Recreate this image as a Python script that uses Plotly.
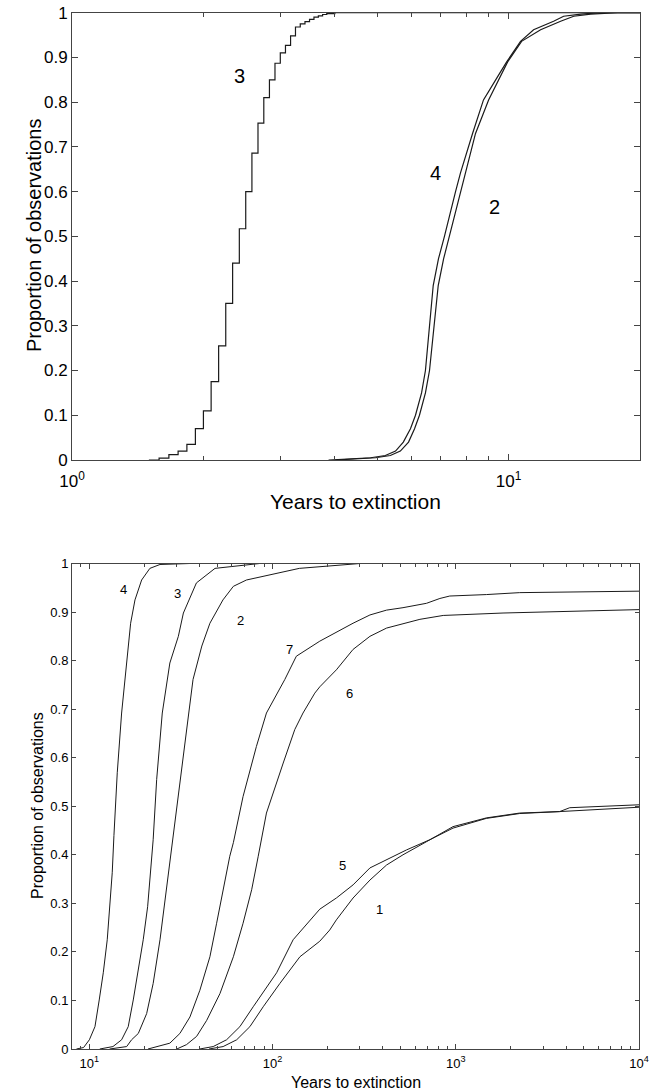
import numpy as np
import plotly.graph_objects as go

# ---------------- Top panel data (years, cumulative proportion) ----------------
top3_x = [1.5, 1.583, 1.667, 1.75, 1.833, 1.917, 2.0, 2.083, 2.167, 2.25, 2.333, 2.417, 2.5,
          2.583, 2.667, 2.75, 2.833, 2.917, 3.0, 3.083, 3.167, 3.25, 3.333, 3.417, 3.5,
          3.583, 3.667, 3.75, 3.833, 4.0, 20.0]
top3_y = [0, 0.004, 0.012, 0.02, 0.035, 0.07, 0.11, 0.175, 0.255, 0.35, 0.44, 0.517, 0.60,
          0.686, 0.753, 0.81, 0.85, 0.887, 0.91, 0.927, 0.948, 0.968, 0.975, 0.98, 0.985,
          0.99, 0.993, 0.996, 0.998, 1.0, 1.0]

top4_x = [3.87, 4.83, 5.22, 5.51, 5.74, 5.96, 6.12, 6.32, 6.45, 6.58, 6.72, 6.91, 7.13, 7.56,
          7.76, 8.27, 8.76, 9.44, 9.9, 10.65, 11.41, 12.68, 13.37, 14.63, 16.26, 20.0]
top4_y = [0, 0.005, 0.01, 0.02, 0.04, 0.07, 0.10, 0.15, 0.20, 0.30, 0.39, 0.45, 0.50, 0.60,
          0.642, 0.73, 0.805, 0.857, 0.89, 0.936, 0.962, 0.981, 0.992, 0.997, 1.0, 1.0]

top2_x = [4.01, 4.96, 5.36, 5.65, 5.9, 6.09, 6.25, 6.45, 6.59, 6.76, 6.90, 7.10, 7.32, 7.76,
          7.97, 8.4, 9.0, 9.59, 9.95, 10.71, 11.84, 13.16, 14.1, 15.42, 17.78, 20.0]
top2_y = [0, 0.005, 0.01, 0.02, 0.04, 0.07, 0.10, 0.15, 0.20, 0.30, 0.39, 0.45, 0.50, 0.60,
          0.642, 0.73, 0.805, 0.857, 0.89, 0.936, 0.962, 0.981, 0.992, 0.997, 1.0, 1.0]

top_labels = ["3", "4", "2"]
top_label_x = [2.415, 6.80, 9.29]
top_label_y = [0.859, 0.642, 0.566]

# ---------------- Bottom panel data ----------------
bot4_x = [8.5, 9.3, 10.0, 10.73, 11.32, 11.91, 12.52, 12.96, 13.33, 13.62, 14.2, 15.0, 15.98,
          16.8, 17.74, 19.29, 21.4, 24.3, 35.4]
bot4_y = [0, 0.003, 0.019, 0.046, 0.101, 0.157, 0.225, 0.293, 0.363, 0.44, 0.569, 0.692, 0.795,
          0.877, 0.925, 0.966, 0.99, 0.998, 1.0]

bot3_x = [11.4, 13.45, 15.0, 16.3, 17.36, 18.33, 19.68, 20.8, 21.6, 22.3, 23.3, 25.0, 27.5,
          30.6, 32.6, 36.1, 38.4, 48.5, 85.0]
bot3_y = [0, 0.005, 0.019, 0.046, 0.101, 0.157, 0.225, 0.293, 0.363, 0.431, 0.555, 0.692, 0.795,
          0.85, 0.898, 0.939, 0.96, 0.99, 1.0]

bot2_x = [12.9, 15.98, 17.0, 18.5, 20.55, 22.3, 24.3, 25.6, 26.9, 28.4, 31.2, 34.6, 36.8, 41.1,
          45.5, 53.6, 61.1, 72.0, 140.0, 300.0]
bot2_y = [0, 0.005, 0.019, 0.032, 0.073, 0.135, 0.225, 0.293, 0.363, 0.425, 0.555, 0.692, 0.761,
          0.83, 0.877, 0.925, 0.953, 0.966, 0.99, 1.0]

bot7_x = [20.9, 27.5, 31.2, 35.4, 40.1, 45.5, 49.5, 53.6, 58.4, 61.1, 69.0, 81.6, 92.6, 116.6,
          134.8, 181, 275, 340, 419, 515, 692, 819, 927, 1469, 2233, 10000]
bot7_y = [0, 0.012, 0.032, 0.066, 0.121, 0.19, 0.259, 0.328, 0.397, 0.425, 0.52, 0.623, 0.692,
          0.761, 0.809, 0.84, 0.877, 0.894, 0.904, 0.909, 0.918, 0.928, 0.933, 0.936, 0.940, 0.943]

bot6_x = [30, 33.9, 38.5, 43.7, 51.6, 61.1, 69.0, 76.9, 83.5, 87.0, 92.6, 114.3, 132.2, 146.6,
          170.0, 181, 223, 275, 340, 419, 637, 854, 1811, 10000]
bot6_y = [0, 0.009, 0.026, 0.059, 0.114, 0.19, 0.259, 0.328, 0.397, 0.431, 0.486, 0.589, 0.658,
          0.692, 0.733, 0.746, 0.781, 0.823, 0.85, 0.867, 0.885, 0.893, 0.898, 0.905]

bot5_x = [40, 47.4, 56.1, 66.3, 78.4, 105.2, 129.5, 181, 223, 275, 340, 419, 538, 721, 966,
          1469, 2233, 3690, 10000]
bot5_y = [0, 0.005, 0.019, 0.046, 0.087, 0.157, 0.225, 0.288, 0.311, 0.338, 0.373, 0.39, 0.41,
          0.431, 0.455, 0.475, 0.485, 0.489, 0.498]

bot1_x = [45, 53.7, 63.7, 75.2, 88.9, 109.6, 141, 181, 205, 223, 275, 340, 419, 515, 692, 966,
          1469, 2233, 3690, 4188, 10000]
bot1_y = [0, 0.005, 0.019, 0.046, 0.087, 0.135, 0.19, 0.222, 0.245, 0.266, 0.311, 0.348, 0.379,
          0.40, 0.427, 0.458, 0.476, 0.486, 0.489, 0.497, 0.503]

bot_labels = ["4", "3", "2", "7", "6", "5", "1"]
bot_label_x = [15.45, 30.4, 67.1, 124.3, 264, 241.8, 385]
bot_label_y = [0.947, 0.939, 0.883, 0.822, 0.733, 0.379, 0.288]

y_ticks = [0, 0.1, 0.2, 0.3, 0.4, 0.5, 0.6, 0.7, 0.8, 0.9, 1]
y_ticktext = ["0", "0.1", "0.2", "0.3", "0.4", "0.5", "0.6", "0.7", "0.8", "0.9", "1"]
top_xticks = [1, 10]
top_xticktext = ["10<sup>0</sup>", "10<sup>1</sup>"]
bot_xticks = [10, 100, 1000, 10000]
bot_xticktext = ["10<sup>1</sup>", "10<sup>2</sup>", "10<sup>3</sup>", "10<sup>4</sup>"]
y_title = "Proportion of observations"
x_title = "Years to extinction"

# ---------------- Figure ----------------
W, H = 653, 1092
FONT = "Liberation Sans, Arial, sans-serif"
LINE = "#1a1a1a"
AX = "#444444"

fig = go.Figure()

fig.add_trace(go.Scatter(x=top3_x, y=top3_y, mode="lines", line=dict(color=LINE, width=1.2, shape="hv"),
                         xaxis="x", yaxis="y", showlegend=False, hoverinfo="skip"))
fig.add_trace(go.Scatter(x=top4_x, y=top4_y, mode="lines", line=dict(color=LINE, width=1.2),
                         xaxis="x", yaxis="y", showlegend=False, hoverinfo="skip"))
fig.add_trace(go.Scatter(x=top2_x, y=top2_y, mode="lines", line=dict(color=LINE, width=1.2),
                         xaxis="x", yaxis="y", showlegend=False, hoverinfo="skip"))

for bx, by in [(bot4_x, bot4_y), (bot3_x, bot3_y), (bot2_x, bot2_y), (bot7_x, bot7_y),
               (bot6_x, bot6_y), (bot5_x, bot5_y), (bot1_x, bot1_y)]:
    fig.add_trace(go.Scatter(x=bx, y=by, mode="lines", line=dict(color=LINE, width=1),
                             xaxis="x2", yaxis="y2", showlegend=False, hoverinfo="skip"))

def px_to_xdomain(a, b):
    return [a / W, b / W]

def py_to_ydomain(top, bottom):
    return [1 - bottom / H, 1 - top / H]

common_axis = dict(showline=True, linecolor=AX, linewidth=1, mirror="ticks", ticks="inside",
                   tickcolor=AX, showgrid=False, zeroline=False, automargin=False)

fig.update_layout(
    template="none",
    width=W, height=H,
    margin=dict(l=0, r=0, t=0, b=0, autoexpand=False),
    paper_bgcolor="white", plot_bgcolor="white",
    font=dict(family=FONT, color="black"),
    xaxis=dict(type="log", range=[0, np.log10(20)], domain=px_to_xdomain(72, 640),
               tickvals=top_xticks, ticktext=top_xticktext, ticklen=6, ticklabelstandoff=6,
               tickfont=dict(size=17), anchor="y",
               minor=dict(tickvals=[2, 3, 4, 5, 6, 7, 8, 9], ticks="inside", ticklen=4, tickcolor=AX),
               **common_axis),
    yaxis=dict(range=[0, 1], domain=py_to_ydomain(12.7, 460), tickvals=y_ticks,
               ticktext=y_ticktext, ticklen=6, tickfont=dict(size=17), anchor="x",
               **common_axis),
    xaxis2=dict(type="log", range=[np.log10(8.04), 4], domain=px_to_xdomain(72, 639),
                tickvals=bot_xticks, ticktext=bot_xticktext, ticklen=5, ticklabelstandoff=2,
                tickfont=dict(size=13), anchor="y2",
                minor=dict(tickvals=[9, 20, 30, 40, 50, 60, 70, 80, 90, 200, 300, 400, 500, 600,
                                     700, 800, 900, 2000, 3000, 4000, 5000, 6000, 7000, 8000, 9000],
                           ticks="inside", ticklen=3, tickcolor=AX),
                **common_axis),
    yaxis2=dict(range=[0, 1], domain=py_to_ydomain(563.5, 1049), tickvals=y_ticks,
                ticktext=y_ticktext, ticklen=4, tickfont=dict(size=13), anchor="x2",
                **common_axis),
)

annotations = []
for t, lx, ly in zip(top_labels, top_label_x, top_label_y):
    annotations.append(dict(x=np.log10(lx), y=ly, xref="x", yref="y", text=t, showarrow=False,
                            font=dict(size=20, family=FONT, color="black")))
for t, lx, ly in zip(bot_labels, bot_label_x, bot_label_y):
    annotations.append(dict(x=np.log10(lx), y=ly, xref="x2", yref="y2", text=t, showarrow=False,
                            font=dict(size=13, family=FONT, color="black")))

# axis titles
title_specs = [
    (34, 236, y_title, -90, 20),
    (356, 502, x_title, 0, 21),
    (37, 806, y_title, -90, 16),
    (356, 1082, x_title, 0, 16),
]
for px, py, txt, ang, sz in title_specs:
    annotations.append(dict(x=px / W, y=1 - py / H, xref="paper", yref="paper", text=txt,
                            textangle=ang, showarrow=False, xanchor="center", yanchor="middle",
                            font=dict(size=sz, family=FONT, color="black")))
fig.update_layout(annotations=annotations)

fig.write_html("out.html", config={"displayModeBar": False, "staticPlot": True},
               post_script="document.body.style.margin='0';document.body.style.overflow='hidden';")
